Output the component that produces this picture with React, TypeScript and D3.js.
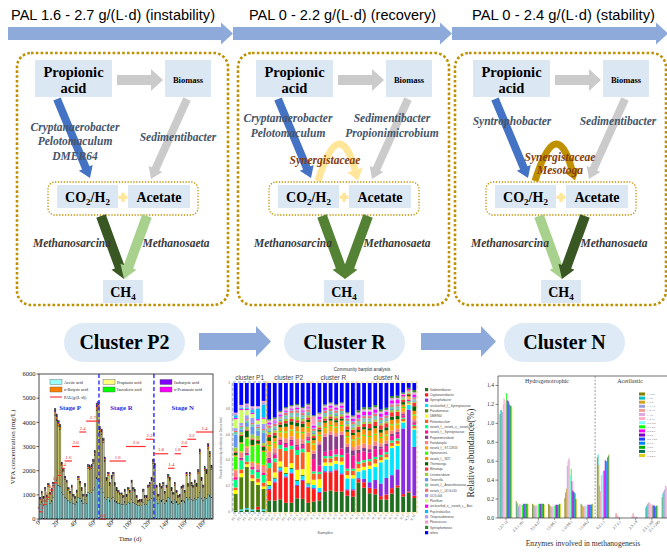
import React from "react";
import * as d3 from "d3";

const SERIF = "'Liberation Serif','Times New Roman',serif";
const SANS = "'Liberation Sans',Arial,sans-serif";

// ---------- schematic texts ----------
const phaseTitles = [
  "PAL  1.6 - 2.7 g/(L·d) (instability)",
  "PAL  0 - 2.2 g/(L·d) (recovery)",
  "PAL  0 - 2.4 g/(L·d) (stability)",
];
const clusterNames = ["Cluster P2", "Cluster R", "Cluster N"];
const syntrophLabels = [
  ["Cryptanaerobacter", "Pelotomaculum", "DMER64"],
  ["Cryptanaerobacter", "Pelotomaculum"],
  ["Syntrophobacter"],
];
const biomassLabels = [["Sedimentibacter"], ["Sedimentibacter", "Propionimicrobium"], ["Sedimentibacter"]];
const arcLabels = [[], ["Synergistaceae"], ["Synergistaceae", "Mesotoga"]];

// ---------- VFA panel ----------
const vfaTimeTicks = [0, 20, 40, 60, 80, 100, 120, 140, 160, 180];
const vfaValueTicks = [0, 1000, 2000, 3000, 4000, 5000, 6000];
const aceticAcid = [600, 700, 550, 750, 600, 800, 650, 750, 900,
  1500, 1600, 1400, 1350,
  1100, 1000, 900, 850, 750, 700,
  800, 650, 600, 700, 900, 850, 750, 650, 800, 650,
  1100, 1050, 1100, 1200, 1300,
  1700, 1650, 1300, 1250, 1100, 900,
  800, 900, 750, 850, 900, 750, 700, 650, 650, 600, 600, 700, 600, 700, 650,
  800, 700, 650, 600, 550, 550, 550, 700, 600, 600, 750, 800, 850,
  1100, 1000, 800, 650, 800, 750, 800, 650, 750,
  900, 850, 700, 650, 800, 700, 600, 650, 750, 750, 700,
  900, 800, 900, 800, 750, 850, 800, 900, 1100, 850, 750, 900, 850, 1000, 950, 900];
const propionicAcid = [200, 350, 300, 450, 300, 550, 350, 400, 500,
  2800, 2500, 2450, 2350,
  1100, 950, 750, 650, 450, 350,
  500, 300, 250, 400, 750, 600, 450, 300, 550, 300,
  1000, 1000, 1000, 1100, 1350,
  2800, 2900, 2300, 2250, 2050, 1500,
  800, 900, 650, 850, 900, 650, 500, 450, 350, 400, 300, 450, 350, 500, 450,
  700, 500, 500, 300, 150, 200, 200, 450, 300, 300, 550, 600, 750,
  1200, 1150, 500, 300, 550, 500, 600, 400, 550,
  800, 750, 500, 350, 600, 400, 300, 300, 500, 550, 400,
  900, 550, 900, 600, 550, 650, 550, 1000, 1600, 750, 550, 1100, 1050, 1900, 1650, 1150];
const butyricAcid = [40, 50, 35, 55, 40, 60, 45, 50, 60,
  150, 140, 120, 110,
  80, 70, 60, 55, 45, 40,
  50, 35, 30, 45, 60, 55, 45, 35, 50, 35,
  80, 75, 80, 90, 100,
  160, 170, 130, 120, 110, 90,
  60, 70, 50, 60, 70, 50, 45, 40, 35, 35, 30, 45, 35, 45, 40,
  55, 45, 40, 35, 30, 30, 30, 45, 35, 35, 50, 55, 60,
  90, 80, 50, 35, 50, 45, 55, 40, 50,
  65, 60, 45, 40, 55, 40, 35, 35, 45, 50, 40,
  70, 50, 70, 55, 50, 60, 50, 75, 100, 60, 50, 80, 75, 110, 100, 80];
const isobutyricAcid = [30, 30, 25, 35, 30, 35, 30, 30, 35,
  60, 55, 50, 50,
  40, 35, 30, 30, 25, 25,
  30, 25, 25, 30, 35, 30, 30, 25, 30, 25,
  40, 40, 40, 45, 50,
  70, 70, 55, 50, 45, 40,
  30, 35, 30, 30, 35, 30, 25, 25, 25, 25, 20, 25, 25, 25, 25,
  30, 25, 25, 25, 20, 20, 20, 25, 25, 25, 30, 30, 35,
  45, 40, 30, 25, 30, 30, 30, 25, 30,
  35, 35, 30, 25, 30, 25, 25, 25, 30, 30, 25,
  35, 30, 35, 30, 30, 30, 30, 40, 50, 35, 30, 40, 40, 55, 50, 40];
const isovalericAcid = [15, 20, 15, 20, 15, 20, 15, 20, 20,
  40, 35, 35, 30,
  25, 20, 20, 20, 15, 15,
  20, 15, 15, 20, 20, 20, 15, 15, 20, 15,
  25, 25, 25, 30, 30,
  45, 45, 35, 35, 30, 25,
  20, 20, 15, 20, 20, 15, 15, 15, 15, 15, 10, 15, 15, 15, 15,
  20, 15, 15, 15, 10, 10, 10, 15, 15, 15, 20, 20, 20,
  30, 25, 20, 15, 20, 20, 20, 15, 20,
  25, 20, 20, 15, 20, 15, 15, 15, 20, 20, 15,
  25, 20, 25, 20, 20, 20, 20, 25, 35, 20, 20, 30, 25, 35, 30, 25];
const pentanoicAcid = [5, 8, 5, 8, 5, 8, 5, 8, 8,
  20, 18, 15, 15,
  10, 10, 8, 8, 6, 6,
  8, 6, 5, 8, 10, 8, 6, 5, 8, 5,
  12, 12, 12, 15, 15,
  25, 25, 18, 18, 15, 12,
  8, 10, 8, 8, 10, 8, 6, 6, 5, 5, 5, 6, 5, 6, 6,
  8, 6, 6, 5, 5, 5, 5, 6, 5, 5, 8, 8, 10,
  15, 12, 8, 6, 8, 8, 8, 6, 8,
  10, 10, 8, 6, 8, 6, 5, 5, 8, 8, 6,
  10, 8, 10, 8, 8, 8, 8, 10, 15, 8, 8, 12, 10, 15, 15, 10];
// organic loading steps (day from, day to, g/(L·d))
const palSteps = [
  { from: 0, to: 4, value: 0.2 }, { from: 4, to: 8, value: 0.4 }, { from: 8, to: 12, value: 0.6 },
  { from: 12, to: 16, value: 0.8 }, { from: 16, to: 20, value: 1.0 }, { from: 20, to: 24, value: 1.2 },
  { from: 24, to: 28, value: 1.4 }, { from: 28, to: 36, value: 1.6 }, { from: 36, to: 44, value: 2.0 },
  { from: 44, to: 51.5, value: 2.4 }, { from: 51.5, to: 66, value: 2.7 }, { from: 66, to: 73.5, value: 0 },
  { from: 77, to: 95, value: 1.6 }, { from: 95, to: 116.5, value: 2.0 }, { from: 116.5, to: 125, value: 2.2 },
  { from: 125.5, to: 141, value: 1.8 }, { from: 141, to: 148, value: 1.4 }, { from: 148, to: 155, value: 1.8 },
  { from: 155, to: 162, value: 2.0 }, { from: 162, to: 171.5, value: 2.2 }, { from: 171.5, to: 190, value: 2.4 },
];
const stageNames = ["Stage P", "Stage R", "Stage N"];
const stageCenters = [34, 90, 157];
const stageBreaks = [65.5, 125.5];

// ---------- community barplot ----------
const sampleNames = ["P1_1", "P1_2", "P1_3", "P1_4", "P1_5", "P1_6",
  "P2_1", "P2_2", "P2_3", "P2_4", "P2_5", "P2_6", "P2_7", "P2_8",
  "R_1", "R_2", "R_3", "R_4", "R_5", "R_6", "R_7", "R_8",
  "N_1", "N_2", "N_3", "N_4", "N_5", "N_6", "N_7", "N_8", "N_9", "N_10", "N_11"];
const clusterGroups = [
  { name: "cluster P1", from: 0, to: 6 }, { name: "cluster P2", from: 6, to: 14 },
  { name: "cluster R", from: 14, to: 22 }, { name: "cluster N", from: 22, to: 33 },
];
const sedimentibacter = [1, 1, 2, 1, 2, 1, 9, 9, 10, 8, 8, 11, 11, 8, 10, 11, 19, 20, 19, 19, 15, 14, 27, 22, 17, 16, 12, 12, 17, 23, 13, 16, 12];
const cryptanaerobacter = [0, 0, 0, 0, 2, 0, 8, 14, 22, 22, 25, 10, 15, 13, 12, 7, 18, 17, 20, 16, 5, 6, 3, 5, 5, 5, 3, 5, 5, 2, 2, 1, 2];
const syntrophobacter = [0, 0, 0, 0, 0, 0, 1, 1, 1, 1, 1, 1, 1, 1, 1, 1, 1, 1, 1, 1, 1, 1, 1, 3, 5, 8, 12, 16, 12, 15, 55, 68, 42];
const uncSynergistaceae = [0, 1, 1, 1, 0, 1, 2, 2, 2, 2, 3, 3, 3, 2, 3, 4, 5, 5, 5, 8, 10, 10, 6, 8, 12, 12, 20, 18, 25, 22, 5, 4, 15];
const pseudomonas = [13, 25, 32, 22, 17, 16, 1, 1, 1, 1, 1, 1, 1, 1, 0, 0, 0, 0, 0, 0, 0, 0, 0, 0, 0, 0, 0, 0, 0, 0, 0, 0, 0];
const dmer64 = [3, 3, 2, 2, 2, 2, 3, 4, 4, 5, 4, 8, 5, 27, 5, 8, 3, 3, 3, 3, 3, 3, 3, 3, 3, 3, 2, 2, 2, 2, 1, 1, 1];
const pelotomaculum = [2, 3, 2, 3, 3, 3, 10, 8, 10, 14, 12, 12, 14, 8, 6, 5, 4, 4, 4, 4, 4, 4, 4, 4, 4, 4, 3, 3, 3, 3, 2, 1, 2];
const norankNorankO = [6, 7, 5, 4, 5, 6, 4, 3, 3, 3, 3, 4, 3, 2, 2, 2, 2, 2, 2, 2, 2, 2, 2, 2, 2, 2, 2, 2, 2, 2, 1, 1, 1];
const norankSynergistaceae = [2, 1, 1, 2, 1, 2, 3, 3, 3, 3, 4, 3, 3, 2, 12, 6, 4, 5, 5, 6, 14, 12, 8, 8, 6, 7, 6, 6, 4, 4, 2, 1, 2];
const propionimicrobium = [0, 1, 1, 0, 1, 0, 1, 1, 1, 1, 1, 1, 1, 1, 5, 20, 14, 15, 12, 13, 6, 5, 3, 3, 3, 3, 2, 2, 2, 2, 1, 0, 1];
const fastidiosipila = [5, 4, 4, 3, 4, 5, 5, 4, 2, 4, 3, 5, 4, 4, 3, 3, 3, 3, 3, 3, 3, 3, 4, 4, 4, 4, 3, 3, 3, 3, 2, 1, 2];
const norankST12K33 = [1, 1, 1, 1, 1, 1, 4, 4, 4, 5, 5, 5, 5, 4, 6, 5, 5, 5, 5, 5, 6, 6, 6, 7, 7, 6, 5, 5, 5, 4, 3, 1, 3];
const sporosarcina = [10, 6, 6, 12, 14, 10, 1, 1, 1, 1, 1, 1, 1, 1, 1, 1, 1, 1, 1, 1, 1, 1, 1, 1, 1, 1, 1, 1, 1, 1, 1, 0, 1];
const norankW27 = [1, 1, 1, 1, 1, 1, 3, 3, 3, 4, 4, 4, 4, 4, 3, 3, 4, 4, 4, 4, 4, 4, 5, 5, 5, 5, 4, 4, 4, 4, 2, 1, 3];
const thermovirga = [2, 5, 5, 4, 2, 3, 3, 2, 2, 3, 3, 3, 3, 2, 2, 2, 2, 2, 2, 2, 2, 2, 2, 2, 2, 2, 3, 3, 3, 3, 2, 1, 4];
const mesotoga = [1, 1, 1, 1, 1, 1, 2, 2, 2, 2, 2, 2, 2, 2, 2, 2, 2, 2, 2, 2, 3, 3, 3, 3, 4, 4, 4, 4, 4, 4, 2, 1, 3];
const lentimicrobium = [3, 2, 2, 3, 3, 2, 2, 2, 1, 2, 2, 3, 2, 2, 2, 2, 2, 2, 2, 2, 2, 2, 2, 2, 2, 2, 2, 2, 2, 2, 1, 1, 1];
const tissierella = [10, 2, 3, 6, 4, 8, 1, 1, 1, 1, 1, 1, 1, 1, 1, 1, 1, 1, 1, 1, 1, 1, 1, 1, 1, 1, 1, 1, 1, 1, 0, 0, 1];
const norankAnaerolineaceae = [2, 2, 2, 2, 2, 2, 2, 2, 1, 2, 2, 2, 2, 2, 2, 2, 2, 2, 2, 2, 2, 2, 2, 2, 2, 2, 2, 2, 2, 2, 1, 1, 1];
const norankUCG010 = [1, 1, 1, 1, 1, 1, 2, 2, 1, 2, 2, 2, 2, 2, 2, 2, 2, 2, 2, 2, 2, 2, 2, 2, 2, 2, 2, 2, 2, 2, 1, 1, 1];
const ucg004 = [2, 2, 3, 4, 2, 4, 1, 1, 1, 1, 1, 1, 1, 1, 1, 1, 1, 1, 1, 1, 1, 1, 1, 1, 1, 1, 1, 1, 1, 1, 0, 0, 1];
const planifilum = [7, 10, 4, 3, 3, 4, 0, 0, 0, 0, 0, 0, 0, 0, 0, 0, 0, 0, 0, 0, 0, 0, 0, 0, 0, 0, 0, 0, 0, 0, 0, 0, 0];
const uncNorankBact = [1, 1, 1, 1, 1, 1, 1, 1, 1, 1, 1, 1, 1, 1, 2, 2, 2, 2, 2, 2, 2, 2, 3, 3, 3, 3, 3, 3, 3, 3, 1, 1, 2];
const psychrobacillus = [2, 1, 1, 2, 8, 10, 0, 0, 0, 0, 0, 0, 0, 0, 0, 0, 0, 0, 0, 0, 0, 0, 0, 0, 0, 0, 0, 0, 0, 0, 0, 0, 0];
const thiopseudomonas = [1, 1, 2, 2, 1, 2, 1, 1, 1, 1, 1, 1, 1, 1, 1, 1, 1, 1, 1, 1, 1, 1, 1, 1, 1, 1, 1, 1, 1, 1, 0, 0, 1];
const planococcus = [1, 1, 1, 1, 1, 1, 1, 1, 1, 1, 1, 1, 1, 1, 8, 2, 1, 1, 1, 1, 1, 1, 1, 1, 1, 1, 1, 1, 1, 1, 1, 0, 1];
const syntrophomonas = [0, 0, 0, 0, 0, 0, 1, 1, 1, 1, 1, 1, 1, 1, 1, 1, 1, 1, 1, 1, 1, 1, 2, 2, 2, 2, 2, 2, 2, 2, 1, 1, 2];
const othersGenus = [23, 17, 16, 18, 18, 14, 28, 27, 22, 21, 19, 17, 20, 18, 31, 28, 20, 18, 20, 18, 27, 30, 25, 22, 22, 20, 25, 24, 12, 12, 8, 4, 6];

const genera = [
  { name: "Sedimentibacter", color: "#1d6f1d", values: sedimentibacter },
  { name: "Cryptanaerobacter", color: "#ff1a1a", values: cryptanaerobacter },
  { name: "Syntrophobacter", color: "#8a2be2", values: syntrophobacter },
  { name: "unclassified_f__Synergistaceae", color: "#00e5ff", values: uncSynergistaceae },
  { name: "Pseudomonas", color: "#4f7f0f", values: pseudomonas },
  { name: "DMER64", color: "#ffff00", values: dmer64 },
  { name: "Pelotomaculum", color: "#ff5a1f", values: pelotomaculum },
  { name: "norank_f__norank_o__norank_c__...", color: "#00ff7f", values: norankNorankO },
  { name: "norank_f__Synergistaceae", color: "#ff1493", values: norankSynergistaceae },
  { name: "Propionimicrobium", color: "#8b3a8b", values: propionimicrobium },
  { name: "Fastidiosipila", color: "#ff8080", values: fastidiosipila },
  { name: "norank_f__ST-12K33", color: "#ffa500", values: norankST12K33 },
  { name: "Sporosarcina", color: "#33ff00", values: sporosarcina },
  { name: "norank_f__W27", color: "#ff8c00", values: norankW27 },
  { name: "Thermovirga", color: "#006400", values: thermovirga },
  { name: "Mesotoga", color: "#ff3030", values: mesotoga },
  { name: "Lentimicrobium", color: "#9acd32", values: lentimicrobium },
  { name: "Tissierella", color: "#6495ed", values: tissierella },
  { name: "norank_f__Anaerolineaceae", color: "#66cdaa", values: norankAnaerolineaceae },
  { name: "norank_f__UCG-010", color: "#f07070", values: norankUCG010 },
  { name: "UCG-004", color: "#9999ff", values: ucg004 },
  { name: "Planifilum", color: "#ccff66", values: planifilum },
  { name: "unclassified_o__norank_c__Bact", color: "#ff00ff", values: uncNorankBact },
  { name: "Psychrobacillus", color: "#00bfff", values: psychrobacillus },
  { name: "Thiopseudomonas", color: "#b399e6", values: thiopseudomonas },
  { name: "Planococcus", color: "#ff99cc", values: planococcus },
  { name: "Syntrophomonas", color: "#2e8b2e", values: syntrophomonas },
  { name: "others", color: "#0000ff", values: othersGenus },
];

// ---------- enzyme panel ----------
const enzymeCodes = ["1.2.7.12", "2.3.1.101", "3.5.4.27", "1.5.98.1", "1.12.98.1", "1.5.98.2",
  "6.2.1.1", "2.7.2.1", "2.3.1.8", "2.3.1.169", "2.1.1.245"];
const enzymeSamples = ["L.P.2.a", "L.P.b", "L.R.b", "L.1.1.a", "L.2.3.a", "L.3.b", "L.2.7.c", "R.R.0.b",
  "R.1.0.b", "R.2.0.b", "R.2.2", "R.2.1.4.b", "R.3.b", "N.2.a", "N.2.2.b", "N.2.4.b"];
const enzymeColors = ["#808000", "#00c0c0", "#d4a020", "#9aa0e0", "#f0a0a0", "#e0a8e0", "#ffb0c8", "#80ffff",
  "#00ff00", "#ff00ff", "#8000c0", "#2040ff", "#0080ff", "#00b000", "#007050", "#e0d020"];
const ec1_2_7_12 = [1.10, 1.14, 1.14, 1.12, 1.20, 1.27, 1.25, 1.22, 1.32, 1.25, 1.24, 1.23, 1.20, 1.19, 1.18, 1.17];
const ec2_3_1_101 = [0.18, 0.16, 0.15, 0.12, 0.14, 0.15, 0.13, 0.14, 0.14, 0.15, 0.15, 0.15, 0.15, 0.15, 0.15, 0.15];
const ec3_5_4_27 = [0.15, 0.14, 0.14, 0.12, 0.13, 0.13, 0.14, 0.14, 0.15, 0.15, 0.15, 0.15, 0.15, 0.15, 0.15, 0.14];
const ec1_5_98_1 = [0.15, 0.14, 0.13, 0.12, 0.12, 0.12, 0.13, 0.13, 0.13, 0.14, 0.14, 0.14, 0.14, 0.14, 0.15, 0.15];
const ec1_12_98_1 = [0.21, 0.27, 0.31, 0.55, 0.60, 0.63, 0.62, 0.45, 0.52, 0.39, 0.29, 0.28, 0.27, 0.26, 0.20, 0.20];
const ec1_5_98_2 = [0.15, 0.14, 0.13, 0.12, 0.12, 0.13, 0.13, 0.13, 0.14, 0.14, 0.14, 0.14, 0.14, 0.14, 0.15, 0.15];
const ec6_2_1_1 = [0.64, 0.67, 0.56, 0.34, 0.28, 0.45, 0.45, 0.48, 0.50, 0.50, 0.61, 0.60, 0.60, 0.64, 0.66, 0.68];
const ec2_7_2_1 = [0, 0, 0, 0.05, 0.05, 0.03, 0.02, 0, 0.01, 0, 0, 0, 0, 0, 0, 0];
const ec2_3_1_8 = [0, 0, 0, 0.02, 0.05, 0.05, 0.02, 0, 0.01, 0.01, 0, 0, 0, 0, 0, 0];
const ec2_3_1_169 = [0.11, 0.13, 0.15, 0.16, 0.17, 0.16, 0.15, 0.14, 0.13, 0.14, 0.13, 0.13, 0.12, 0.13, 0.13, 0.13];
const ec2_1_1_245 = [0.22, 0.26, 0.28, 0.30, 0.34, 0.34, 0.32, 0.30, 0.29, 0.28, 0.28, 0.27, 0.27, 0.26, 0.26, 0.26];
const enzymeValues = [ec1_2_7_12, ec2_3_1_101, ec3_5_4_27, ec1_5_98_1, ec1_12_98_1, ec1_5_98_2,
  ec6_2_1_1, ec2_7_2_1, ec2_3_1_8, ec2_3_1_169, ec2_1_1_245];
const enzymeTicks = [0, 0.2, 0.4, 0.6, 0.8, 1.0, 1.2, 1.4];

// ---------- helpers ----------
function blockArrow(x1: number, y1: number, x2: number, y2: number, bw: number, hw: number, hl: number) {
  const dx = x2 - x1, dy = y2 - y1, L = Math.hypot(dx, dy);
  const ux = dx / L, uy = dy / L, nx = -uy, ny = ux;
  const bx = x2 - ux * hl, by = y2 - uy * hl;
  const pts = [
    [x1 + nx * bw / 2, y1 + ny * bw / 2], [bx + nx * bw / 2, by + ny * bw / 2], [bx + nx * hw / 2, by + ny * hw / 2],
    [x2, y2], [bx - nx * hw / 2, by - ny * hw / 2], [bx - nx * bw / 2, by - ny * bw / 2], [x1 - nx * bw / 2, y1 - ny * bw / 2],
  ];
  return pts.map((p) => p.join(",")).join(" ");
}

const BOX = "#dce7f4";
const GOLD = "#bf9000";

const panelLayout = [
  { x: 17, synX: 58, synY: [127, 141, 156], bioX: 161, bioY: [137], arc: "", arcX: 0, arcY: [] as number[], hydro: "#385723", ace: "#a9d18e" },
  { x: 238, synX: 50, synY: [118, 133], bioX: 154, bioY: [118, 133], arc: "#ffe699", arcX: 87, arcY: [160], hydro: "#548235", ace: "#548235" },
  { x: 455, synX: 57, synY: [121], bioX: 163, bioY: [121], arc: GOLD, arcX: 105, arcY: [157, 170], hydro: "#a9d18e", ace: "#385723" },
];

function Panel({ i }: { i: number }) {
  const p = panelLayout[i];
  const X = (v: number) => p.x + v;
  const lab = { fontFamily: SERIF, fontStyle: "italic", fontWeight: "bold", fontSize: 11.5, textAnchor: "middle" } as const;
  // synergistaceae arc
  let arcEl = null;
  if (p.arc) {
    const sx = X(80), sy = 181, cx = X(101), cy = 113, ex = X(117), ey = 170;
    const dx = ex - cx, dy = ey - cy, L = Math.hypot(dx, dy), ux = dx / L, uy = dy / L;
    const tip = [ex + ux * 11, ey + uy * 11];
    const head = [[ex - uy * 8, ey + ux * 8], tip, [ex + uy * 8, ey - ux * 8]].map((q) => q.join(",")).join(" ");
    arcEl = (
      <g>
        <path d={`M${sx},${sy} Q${cx},${cy} ${ex},${ey}`} fill="none" stroke={p.arc} strokeWidth={7} />
        <polygon points={head} fill={p.arc} />
      </g>
    );
  }
  return (
    <g>
      <rect x={p.x} y={53} width={211} height={252} rx={14} fill="none" stroke={GOLD} strokeWidth={2.6} strokeDasharray="2.6 2.2" />
      <rect x={X(18)} y={60} width={77} height={37} fill={BOX} />
      <text x={X(56.5)} y={77} fontFamily={SERIF} fontWeight="bold" fontSize={14.5} textAnchor="middle">Propionic</text>
      <text x={X(56.5)} y={92.5} fontFamily={SERIF} fontWeight="bold" fontSize={14.5} textAnchor="middle">acid</text>
      <rect x={X(148)} y={60} width={46} height={37} fill={BOX} />
      <text x={X(171)} y={83} fontFamily={SERIF} fontWeight="bold" fontSize={8.5} textAnchor="middle">Biomass</text>
      <polygon points={blockArrow(X(100), 80, X(146), 80, 10, 22, 12)} fill="#cbcbcb" />
      <polygon points={blockArrow(X(40), 99, X(73), 178, 8, 15, 11)} fill="#4472c4" />
      <polygon points={blockArrow(X(170), 99, X(134), 179, 8, 15, 11)} fill="#cbcbcb" />
      {arcEl}
      <rect x={X(31)} y={182} width={150} height={33} rx={7} fill="none" stroke={GOLD} strokeWidth={1.3} strokeDasharray="1.3 1.6" />
      <rect x={X(40)} y={185} width={61} height={23} fill={BOX} />
      <text x={X(70.5)} y={201.5} fontFamily={SERIF} fontWeight="bold" fontSize={14} textAnchor="middle">
        CO<tspan dy={3} fontSize={9}>2</tspan><tspan dy={-3}>/H</tspan><tspan dy={3} fontSize={9}>2</tspan>
      </text>
      <rect x={X(111)} y={185} width={62} height={23} fill={BOX} />
      <text x={X(142)} y={201.5} fontFamily={SERIF} fontWeight="bold" fontSize={14} textAnchor="middle">Acetate</text>
      <rect x={X(101.5)} y={195.5} width={9} height={3.5} fill="#ffe699" />
      <rect x={X(104.3)} y={192.8} width={3.5} height={9} fill="#ffe699" />
      <polygon points={blockArrow(X(84), 216, X(107), 279, 10, 17, 13)} fill={p.hydro} />
      <polygon points={blockArrow(X(130), 216, X(107), 279, 10, 17, 13)} fill={p.ace} />
      <rect x={X(86)} y={280} width={40} height={23} fill={BOX} />
      <text x={X(106)} y={296.5} fontFamily={SERIF} fontWeight="bold" fontSize={14} textAnchor="middle">
        CH<tspan dy={3} fontSize={9}>4</tspan>
      </text>
      {syntrophLabels[i].map((t, k) => (
        <text key={t} x={X(p.synX)} y={p.synY[k] + 4} {...lab} fill="#44546a">{t}</text>
      ))}
      {biomassLabels[i].map((t, k) => (
        <text key={t} x={X(p.bioX)} y={p.bioY[k] + 4} {...lab} fill="#44546a">{t}</text>
      ))}
      {arcLabels[i].map((t, k) => (
        <text key={t} x={X(p.arcX)} y={p.arcY[k] + 4} {...lab} fill="#843c0c">{t}</text>
      ))}
      <text x={X(55)} y={247} {...lab} fill="#3a3a3a">Methanosarcina</text>
      <text x={X(159)} y={247} {...lab} fill="#3a3a3a">Methanosaeta</text>
    </g>
  );
}

function Schematic() {
  const headerX = [11, 249, 472];
  const headerLen = [204, 187, 183];
  const headerArrows = [[8, 233], [233, 452], [452, 668]];
  const pills = [64, 284, 504];
  const pillArrows = [[199, 271], [421, 496]];
  return (
    <g>
      {phaseTitles.map((t, i) => (
        <text key={t} x={headerX[i]} y={19.5} fontFamily={SANS} fontSize={14} textLength={headerLen[i]} lengthAdjust="spacingAndGlyphs">{t}</text>
      ))}
      {headerArrows.map(([a, b], i) => (
        <polygon key={i} points={blockArrow(a, 33.5, b, 33.5, 13, 22, 12)} fill="#8eaadb" />
      ))}
      {[0, 1, 2].map((i) => <Panel key={i} i={i} />)}
      {clusterNames.map((c, i) => (
        <g key={c}>
          <rect x={pills[i]} y={323} width={121} height={39} rx={19.5} fill="#deebf7" />
          <text x={pills[i] + 60.5} y={349} fontFamily={SERIF} fontWeight="bold" fontSize={20} textAnchor="middle">{c}</text>
        </g>
      ))}
      {pillArrows.map(([a, b], i) => (
        <polygon key={i} points={blockArrow(a, 341.5, b, 341.5, 17, 31, 15)} fill="#8eaadb" />
      ))}
    </g>
  );
}

function VfaChart() {
  const x = d3.scaleLinear().domain([0, 190]).range([39, 213]);
  const y = d3.scaleLinear().domain([0, 6000]).range([519, 374]);
  const yPal = d3.scaleLinear().domain([0, 4]).range([519, 374]);
  const xb = d3.scaleBand<number>().domain(d3.range(aceticAcid.length)).range([x(0.3), x(189.5)]).padding(0.15);
  const keys = ["acetic", "propionic", "butyric", "isobutyric", "isovaleric", "pentanoic"];
  const fills: Record<string, string> = {
    acetic: "#8ad8d8", propionic: "#c4c46e", butyric: "#ff8000", isobutyric: "#8000ff", isovaleric: "#00ff00", pentanoic: "#ff00ff",
  };
  const rows = aceticAcid.map((a, i) => ({
    acetic: a, propionic: propionicAcid[i] ?? 0, butyric: butyricAcid[i] ?? 0,
    isobutyric: isobutyricAcid[i] ?? 0, isovaleric: isovalericAcid[i] ?? 0, pentanoic: pentanoicAcid[i] ?? 0,
  }));
  const series = d3.stack<any>().keys(keys)(rows);
  const legend = [
    { label: "Acetic acid", color: "#99ffff", col: 0, row: 0 },
    { label: "n-Butyric acid", color: "#ff8000", col: 0, row: 1 },
    { label: "PAL(g/(L·d))", color: "line", col: 0, row: 2 },
    { label: "Propionic acid", color: "#ffff80", col: 1, row: 0 },
    { label: "Isovaleric acid", color: "#00ff00", col: 1, row: 1 },
    { label: "Isobutyric acid", color: "#8000ff", col: 2, row: 0 },
    { label: "n-Pentanoic acid", color: "#ff00ff", col: 2, row: 1 },
  ];
  const legX = [50, 103, 160];
  const legY = [382, 389.5, 397];
  return (
    <g fontFamily={SERIF}>
      {series.map((s) => (
        <g key={s.key} fill={fills[s.key]}>
          {s.map((d, i) => (
            <rect key={i} x={xb(i)} y={y(d[1])} width={xb.bandwidth()} height={Math.max(0, y(d[0]) - y(d[1]))} stroke="#1a1a1a" strokeWidth={0.3} />
          ))}
        </g>
      ))}
      {stageBreaks.map((d) => (
        <line key={d} x1={x(d)} x2={x(d)} y1={374} y2={519} stroke="#2a2aff" strokeWidth={1.4} strokeDasharray="4 2.5" />
      ))}
      {palSteps.map((s, i) => (
        <g key={i}>
          <line x1={x(s.from)} x2={x(s.to)} y1={yPal(s.value)} y2={yPal(s.value)} stroke="#ff3030" strokeWidth={1.2} />
          <text x={x((s.from + s.to) / 2)} y={yPal(s.value) - 2.5} fontSize={4.8} fill="#e02020" textAnchor="middle">{s.value.toFixed(1)}</text>
        </g>
      ))}
      {stageNames.map((n, i) => (
        <text key={n} x={x(stageCenters[i])} y={410} fontSize={6.8} fontWeight="bold" fill="#2b2bdd" textAnchor="middle">{n}</text>
      ))}
      {legend.map((l) => (
        <g key={l.label}>
          {l.color === "line" ? (
            <line x1={legX[l.col]} x2={legX[l.col] + 12} y1={legY[l.row]} y2={legY[l.row]} stroke="#ff4040" strokeWidth={1.2} />
          ) : (
            <rect x={legX[l.col]} y={legY[l.row] - 2.5} width={12} height={5} fill={l.color} stroke="#555" strokeWidth={0.4} />
          )}
          <text x={legX[l.col] + 14} y={legY[l.row] + 1.6} fontSize={4.2} fill="#222">{l.label}</text>
        </g>
      ))}
      <rect x={39} y={374} width={174} height={145} fill="none" stroke="#222" strokeWidth={0.8} />
      {vfaValueTicks.map((t) => (
        <g key={t}>
          <line x1={36.5} x2={39} y1={y(t)} y2={y(t)} stroke="#222" strokeWidth={0.7} />
          <text x={35.5} y={y(t) + 2.2} fontSize={6.5} textAnchor="end" fill="#222">{t}</text>
        </g>
      ))}
      {vfaTimeTicks.map((t) => (
        <g key={t}>
          <line x1={x(t)} x2={x(t)} y1={519} y2={521.5} stroke="#222" strokeWidth={0.7} />
          <text transform={`translate(${x(t) + 1.5},${523}) rotate(-45)`} fontSize={6.5} textAnchor="end" fill="#222">{t}</text>
        </g>
      ))}
      <text transform="translate(15,447) rotate(-90)" fontSize={7} textAnchor="middle" fill="#222">VFA concentration (mg/L)</text>
      <text x={130} y={541} fontSize={6.5} textAnchor="middle" fill="#222">Time (d)</text>
    </g>
  );
}

function CommunityChart() {
  const x = d3.scaleBand().domain(sampleNames).range([232, 418]).padding(0.32);
  const y = d3.scaleLinear().domain([0, 1]).range([512, 383]);
  const rows = sampleNames.map((s, i) => {
    const total = d3.sum(genera, (g) => g.values[i]);
    const r: Record<string, number> = {};
    genera.forEach((g) => { r[g.name] = g.values[i] / total; });
    return r;
  });
  const series = d3.stack<any>().keys(genera.map((g) => g.name))(rows);
  const step = x.step();
  const gap = (step - x.bandwidth()) / 2;
  return (
    <g fontFamily={SANS}>
      <text x={362} y={371} fontSize={4.6} textAnchor="middle" fill="#333">Community barplot analysis</text>
      {series.map((s, k) => (
        <g key={s.key} fill={genera[k].color}>
          {s.map((d, i) => (
            <rect key={i} x={x(sampleNames[i])} y={y(d[1])} width={x.bandwidth()} height={Math.max(0, y(d[0]) - y(d[1]))} />
          ))}
        </g>
      ))}
      {clusterGroups.map((c, i) => {
        const x0 = (x(sampleNames[c.from]) ?? 0) - gap;
        const x1 = (x(sampleNames[c.to - 1]) ?? 0) + x.bandwidth() + gap;
        return (
          <g key={c.name}>
            <rect x={x0} y={382} width={x1 - x0} height={131} fill="none" stroke={i === 0 ? "#7f8fa6" : "#f4b942"} strokeWidth={0.8} strokeDasharray="3 2" />
            <text x={(x0 + x1) / 2} y={380} fontSize={6.5} textAnchor="middle" fill="#444">{c.name}</text>
          </g>
        );
      })}
      <line x1={232} x2={232} y1={383} y2={512} stroke="#888" strokeWidth={0.4} />
      {[0, 0.2, 0.4, 0.6, 0.8, 1].map((t) => (
        <text key={t} x={230} y={y(t) + 1} fontSize={3} textAnchor="end" fill="#555">{t}</text>
      ))}
      <text transform="translate(222,448) rotate(-90)" fontSize={2.8} textAnchor="middle" fill="#666">Percent of community abundance on Genus level</text>
      {sampleNames.map((s) => (
        <text key={s} transform={`translate(${(x(s) ?? 0) + x.bandwidth() / 2 + 1},${515}) rotate(-60)`} fontSize={3} textAnchor="end" fill="#666">{s}</text>
      ))}
      <text x={325} y={534} fontSize={4} textAnchor="middle" fill="#555">Samples</text>
      {genera.map((g, i) => (
        <g key={g.name}>
          <rect x={425} y={388 + i * 5.3} width={3.2} height={3.2} fill={g.color} />
          <text x={430} y={390.8 + i * 5.3} fontSize={2.9} fill="#444">{g.name}</text>
        </g>
      ))}
    </g>
  );
}

function EnzymeChart() {
  const x0 = d3.scaleBand().domain(enzymeCodes).range([498, 676]).paddingInner(0.22).paddingOuter(0.1);
  const x1 = d3.scaleBand<number>().domain(d3.range(enzymeSamples.length)).range([0, x0.bandwidth()]);
  const y = d3.scaleLinear().domain([0, 1.5]).range([518, 376]);
  const divider = ((x0("1.5.98.2") ?? 0) + x0.bandwidth() + (x0("6.2.1.1") ?? 0)) / 2;
  return (
    <g fontFamily={SERIF}>
      {enzymeCodes.map((c, g) => (
        <g key={c}>
          {enzymeValues[g].map((v, k) => (
            <rect key={k} x={(x0(c) ?? 0) + (x1(k) ?? 0)} y={y(v)} width={x1.bandwidth()} height={518 - y(v)} fill={enzymeColors[k]} />
          ))}
        </g>
      ))}
      <line x1={498} x2={498} y1={376} y2={518} stroke="#333" strokeWidth={0.7} />
      <line x1={498} x2={667} y1={518} y2={518} stroke="#333" strokeWidth={0.7} />
      <line x1={498} x2={667} y1={376} y2={376} stroke="#333" strokeWidth={0.7} />
      <line x1={divider} x2={divider} y1={376} y2={518} stroke="#555" strokeWidth={0.6} strokeDasharray="2 1.5" />
      {enzymeTicks.map((t) => (
        <g key={t}>
          <line x1={495.5} x2={498} y1={y(t)} y2={y(t)} stroke="#333" strokeWidth={0.6} />
          <text x={494} y={y(t) + 2} fontSize={5.6} textAnchor="end" fill="#333">{t.toFixed(1)}</text>
        </g>
      ))}
      {enzymeCodes.map((c) => {
        const cx = (x0(c) ?? 0) + x0.bandwidth() / 2;
        return (
          <g key={c}>
            <line x1={cx} x2={cx} y1={518} y2={520} stroke="#333" strokeWidth={0.5} />
            <text transform={`translate(${Math.min(cx + 2, 660)},${522}) rotate(-45)`} fontSize={3.8} textAnchor="end" fill="#333">{c}</text>
          </g>
        );
      })}
      <text x={547} y={383} fontSize={6} textAnchor="middle" fill="#333">Hydrogenotrophic</text>
      <text x={630} y={383} fontSize={6} textAnchor="middle" fill="#333">Acetilastic</text>
      {enzymeSamples.map((s, k) => (
        <g key={s}>
          <rect x={639} y={392.5 + k * 4.1} width={6} height={3} fill={enzymeColors[k]} />
          <text x={647} y={395 + k * 4.1} fontSize={2.8} fill="#666">{s}</text>
        </g>
      ))}
      <text transform="translate(474,453) rotate(-90)" fontSize={9.5} textAnchor="middle" fill="#333">Relative abundance(%)</text>
      <text x={583} y={546} fontSize={7.6} textAnchor="middle" fill="#333">Enzymes involved in methanogenesis</text>
    </g>
  );
}

export default function App() {
  return (
    <svg width={667} height={553} viewBox="0 0 667 553" style={{ position: "absolute", left: 0, top: 0, background: "#fff" }}>
      <rect width={667} height={553} fill="#fff" />
      <Schematic />
      <VfaChart />
      <CommunityChart />
      <EnzymeChart />
    </svg>
  );
}
